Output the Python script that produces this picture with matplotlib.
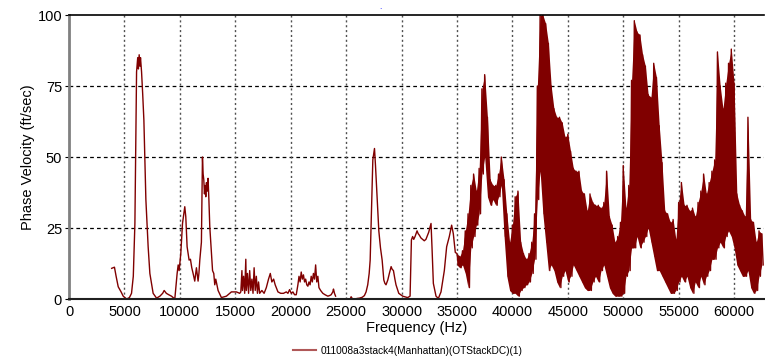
import numpy as np
import matplotlib
matplotlib.use("Agg")
import matplotlib.pyplot as plt
from matplotlib.lines import Line2D

plt.rcParams['font.family'] = ['Liberation Sans', 'DejaVu Sans']

# low band, nan = gap in the trace
freq_low = [3850, 4100, 4250, 4440, 4700, 4890, 5200, 5450, 5640, 5800, 5945, 6095,
            6200, 6260, 6330, 6400, 6450, 6545, 6650, 6755, 6935, 7140, 7295, 7590,
            7900, 8200, 8450, 8585, 8780, 9000, 9245, 9545, 9755, 9850, 9935, 10085,
            10240, 10445, 10535, 10655, 10835, 10955, 11075, 11195, 11345, 11495, 11645,
            11720, 11800, 11945, 12040, 12100, 12160, 12220, 12280, 12340, 12400, 12480,
            12545, 12620, 12700, 12850, 12950, 13060, 13150, 13240, 13450, 13750, 14200,
            14650, 15100, 15400,
            15500, 15600, 15650, 15750, 15850, 15950, 16000, 16100, 16200, 16300, 16400,
            16500, 16600, 16700, 16800, 16900, 17000, 17100, 17200, 17400, 17600, 17800,
            18000, 18160, 18300, 18460, 18600, 18850, 19100, 19350, 19600, 19750, 19900,
            20050, 20200, 20350, 20500, 20650, 20750, 20850, 20950, 21050, 21150, 21250,
            21350, 21450, 21550, 21650, 21750, 21850, 21950, 22050, 22150, 22250, 22350,
            22450, 22550, 22700, 22900, 23100, 23350, 23500, 23650, 23800, 23860, 23950,
            24050, np.nan, 25400, 25450, 25550, np.nan,
            26000, 26200, 26450, 26650, 26800, 26950, 27080, 27170, 27250, 27320, 27410,
            27480, 27560, 27650, 27770, 27950, 28100, 28250, 28400, 28500, 28600, 28760,
            28900, 29060, 29150, 29270, 29400, 29500, 29750, 30100, 30550, 30770, 30890,
            31000, 31100, 31220, 31400, 31500, 31600, 31750, 31900, 32050, 32200, 32450,
            32660, 32750, 32870, 33110, 33320, 33560, 33860, 34070, 34310, 34520, 34670,
            34850]
vel_low = [10.8, 11.2, 8, 4.3, 2.5, 1, 0, 0.5, 2, 8, 26.6, 80,
           85, 81, 86, 82, 85, 80, 72, 63, 35, 18.4, 9, 2,
           0.3, 1, 2, 3, 2, 1.5, 1, 0, 9, 12, 10, 16,
           26.6, 32.5, 29, 18.4, 13.7, 14, 11, 9, 6.3, 11, 6.3,
           9, 13.7, 20, 50, 44, 42, 37, 40, 36, 41, 38,
           42.5, 35, 25.5, 16, 10, 9, 5, 7, 3, 0.5, 1,
           2.5, 2.5, 2,
           2.5, 10, 3, 8, 2, 14, 3, 9, 2, 10, 3,
           7, 2, 11, 3, 8, 2, 6, 2, 3, 2, 4,
           7, 9, 6, 7, 5, 2.5, 2, 2, 2.5, 2, 3.3,
           2, 2.5, 1.5, 1.5, 5, 8, 6, 9.5, 7, 8.5, 6,
           7, 5, 4.5, 6, 5, 8, 6, 9, 7, 12, 6,
           8, 4, 3, 2, 1.5, 1, 1.2, 1.5, 2.5, 3.5, 2,
           1, np.nan, 0.3, 0.8, 0.2, np.nan,
           0.2, 0.3, 0.6, 1.2, 2.5, 5, 9, 13.7, 25, 36, 49,
           51, 53, 47, 38, 24, 18, 13.7, 6.7, 5.5, 5, 6.7,
           9, 11.4, 10.5, 10, 7, 5, 2, 1, 0.5, 1, 20.8,
           22, 21, 22, 24, 23, 22.5, 21.5, 21, 20.5, 21, 23.5,
           26.6, 18, 5.5, 1, 0.2, 2.5, 10, 18.4, 22, 26, 23,
           16.4]

# high band: very noisy, upper and lower envelope every 250 Hz from 35000 Hz
band_start, band_step = 35000, 250
band_hi = [16, 15, 17, 24, 30, 40, 44, 38, 46, 74, 79, 64, 42, 40, 40, 44, 50, 42, 30, 20,
           26, 36, 38, 20, 16, 14, 16, 20, 30, 75, 100, 100, 97, 90, 75, 67, 64, 64, 62, 57,
           58, 52, 46, 45, 45, 38, 37, 31, 37, 34, 33, 33, 32, 34, 45, 29, 26, 20, 22, 27,
           47, 32, 40, 77, 98, 94, 93, 86, 82, 72, 71, 83, 78, 61, 48, 31, 30, 27, 28, 21,
           34, 41, 33, 33, 31, 32, 29, 34, 38, 44, 37, 41, 45, 49, 87, 75, 67, 76, 83, 88,
           76, 37, 33, 31, 29, 64, 28, 27, 20, 24, 23]
band_lo = [12, 11, 12, 9, 4, 18, 22, 26, 30, 44, 50, 36, 33, 35, 33, 36, 40, 22, 8, 3,
           2, 2, 1, 3, 4, 5, 6, 9, 14, 35, 45, 30, 20, 10, 12, 10, 6, 4, 8, 10,
           6, 8, 12, 10, 8, 6, 4, 3, 3, 6, 8, 6, 10, 12, 8, 4, 2, 1, 1, 1,
           2, 8, 10, 18, 18, 22, 18, 20, 22, 25, 20, 15, 10, 10, 8, 6, 4, 2, 2, 3,
           6, 8, 6, 8, 4, 2, 6, 4, 8, 5, 8, 10, 14, 14, 18, 20, 18, 22, 24, 22,
           18, 12, 10, 8, 8, 10, 4, 2, 3, 8, 12]

band_f = band_start + band_step * np.arange(len(band_hi))
zig_f = np.column_stack([band_f, band_f + band_step / 2]).ravel()
zig_v = np.column_stack([band_hi, band_lo]).ravel()

freq = np.concatenate([freq_low, zig_f])
vel = np.concatenate([vel_low, zig_v])

fig = plt.figure(figsize=(7.65, 3.58), dpi=100)
ax = fig.add_axes([0.0902, 0.1648, 0.9085, 0.7933])

ax.fill_between(band_f, band_lo, band_hi, color='#800000', lw=0)
ax.plot(freq, vel, color='#800000', lw=1.0)

ax.set_xlim(0, 62700)
ax.set_ylim(0, 100)
ax.set_xticks(np.arange(0, 60001, 5000))
ax.set_yticks([0, 25, 50, 75, 100])

for y in [25, 50, 75]:
    ax.axhline(y, color='black', lw=0.9, ls=(0, (3, 2.5)), zorder=0)
for x in np.arange(5000, 60001, 5000):
    ax.axvline(x, color='#505050', lw=1.0, ls=(0, (1.5, 2)), zorder=0)

ax.spines['right'].set_visible(False)
ax.spines['left'].set_color('#808080')
ax.spines['left'].set_linewidth(2)
ax.spines['bottom'].set_color('#202020')
ax.spines['bottom'].set_linewidth(1.5)
ax.spines['top'].set_linewidth(1.2)

ax.tick_params(axis='x', length=0, labelsize=10.5, pad=4)
ax.tick_params(axis='y', length=3, labelsize=10.5, pad=2)

ax.set_xlabel('Frequency (Hz)', fontsize=10.5, labelpad=2)
ax.set_ylabel('Phase Velocity (ft/sec)', fontsize=10.5)
ax.yaxis.set_label_coords(-0.049, 0.5)

fig.text(0.497, 0.975, '.', color='blue', fontsize=6, ha='center')

handle = Line2D([], [], color='#b05858', lw=1.5)
fig.legend([handle], ['011008a3stack4(Manhattan)(OTStackDC)(1)'], loc='center',
           bbox_to_anchor=(0.533, 0.02), frameon=False, fontsize=7.3,
           handlelength=2.3, handletextpad=0.5)

fig.savefig('out.png', dpi=100)
